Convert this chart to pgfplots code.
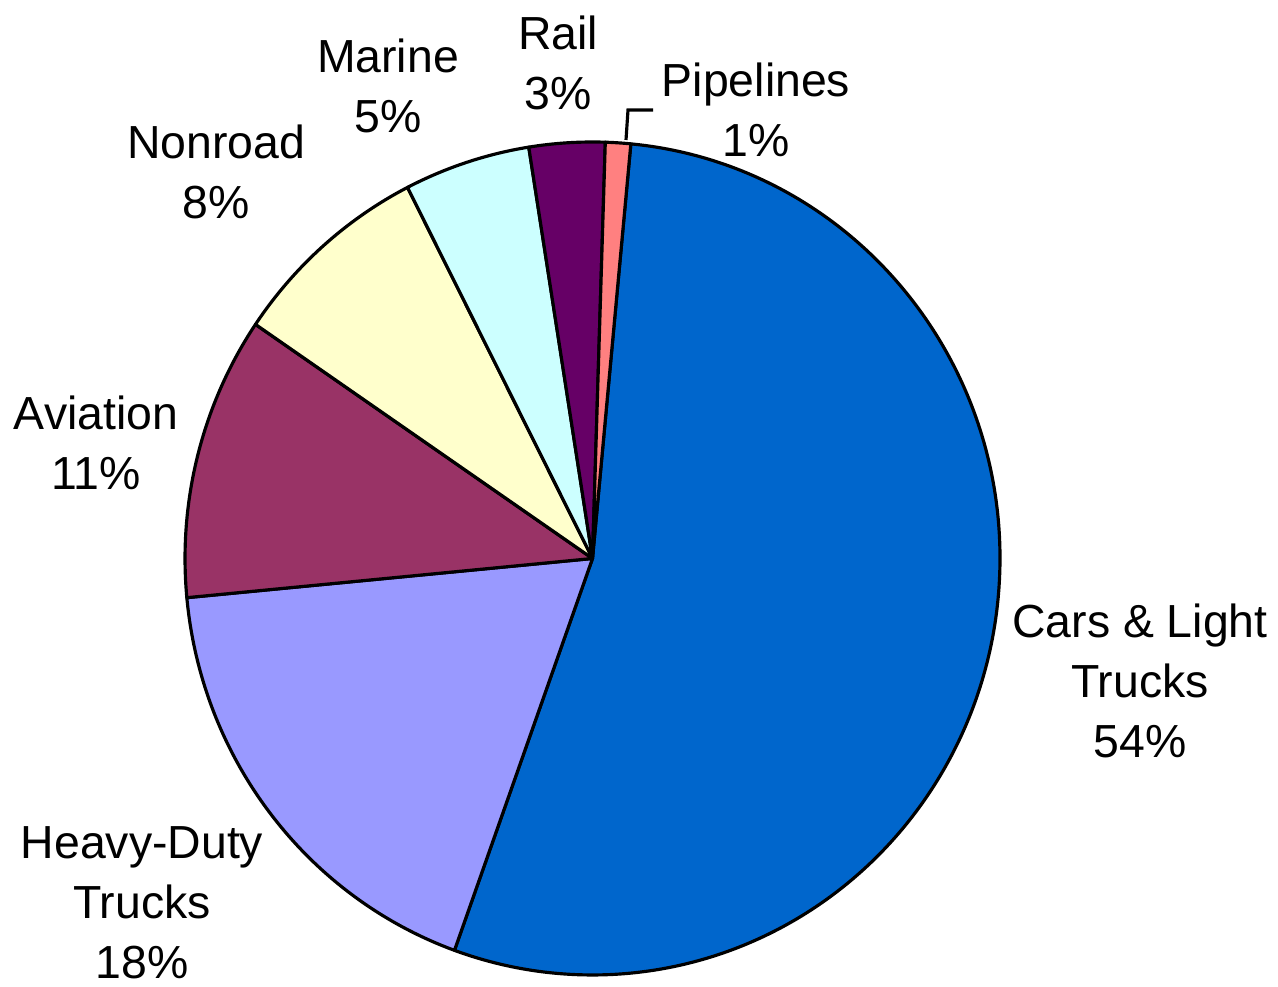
\documentclass[border=0pt]{standalone}
\usepackage{pgfplots}
\pgfplotsset{compat=1.18}
\usepackage{fontspec}
\setmainfont{Liberation Sans}

\definecolor{cars}{HTML}{0066CC}
\definecolor{heavy}{HTML}{9999FF}
\definecolor{aviation}{HTML}{993366}
\definecolor{nonroad}{HTML}{FFFFCC}
\definecolor{marine}{HTML}{CCFFFF}
\definecolor{rail}{HTML}{660066}
\definecolor{pipe}{HTML}{FF8080}

\newcommand\lbl{\fontsize{13.2}{17.07}\selectfont}

\begin{document}
\begin{tikzpicture}
\begin{axis}[
  width=12.78cm, height=9.87cm, scale only axis,
  xmin=0, xmax=1278, ymin=0, ymax=987,
  hide axis, clip=false,
]
% shares in percent, clockwise from the top
\pgfmathsetmacro{\a}{84.6}
\foreach \v/\c in {54/cars,18/heavy,11/aviation,8/nonroad,5/marine,3/rail,1/pipe} {
  \pgfmathsetmacro{\b}{\a-3.6*\v}
  \pgfmathsetmacro{\sx}{4.075*cos(\a)}
  \pgfmathsetmacro{\sy}{4.165*sin(\a)}
  \edef\tmp{\noexpand\filldraw[fill=\c, draw=black, line width=0.9pt, line join=round]
    (axis cs:592.5,428.5) -- ++(\sx cm,\sy cm)
    arc[start angle=\a, end angle=\b, x radius=4.075cm, y radius=4.165cm] -- cycle;}
  \tmp
  \global\let\a\b
}
\draw[line width=0.9pt] (axis cs:626,847) -- (axis cs:628,877) -- (axis cs:653,877);

\node[align=center, font=\lbl] at (axis cs:1140,306) {Cars \& Light\\Trucks\\54\%};
\node[align=center, font=\lbl] at (axis cs:142,84) {Heavy-Duty\\Trucks\\18\%};
\node[align=center, font=\lbl] at (axis cs:96,544) {Aviation\\11\%};
\node[align=center, font=\lbl] at (axis cs:216,815) {Nonroad\\8\%};
\node[align=center, font=\lbl] at (axis cs:388,901) {Marine\\5\%};
\node[align=center, font=\lbl] at (axis cs:558,924) {Rail\\3\%};
\node[align=center, font=\lbl] at (axis cs:756,877) {Pipelines\\1\%};
\end{axis}
\pgfresetboundingbox
\path (0,0) rectangle (12.78cm,9.87cm);
\end{tikzpicture}
\end{document}
